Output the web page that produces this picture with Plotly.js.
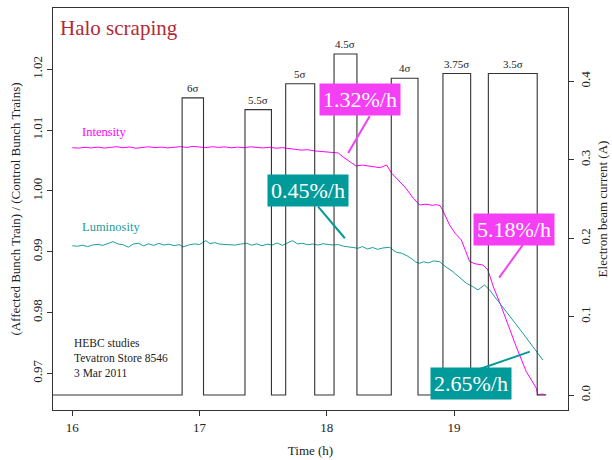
<!DOCTYPE html>
<html>
<head>
<meta charset="utf-8">
<script src="https://cdn.plot.ly/plotly-3.0.1.min.js"></script>
<style>html,body{margin:0;padding:0;background:#fff;}#chart{width:612px;height:460px;}</style>
</head>
<body>
<div id="chart"></div>
<script>
// ---- Data ----
const intensityTime = [16.00,16.05,16.10,16.15,16.20,16.25,16.30,16.35,16.40,16.45,16.50,16.55,16.60,16.65,16.70,16.75,16.80,16.85,16.90,16.95,17.00,17.05,17.10,17.15,17.20,17.25,17.30,17.35,17.40,17.45,17.50,17.55,17.60,17.65,17.70,17.75,17.80,17.85,17.90,17.95,18.00,18.05,18.09,18.13,18.18,18.23,18.28,18.33,18.38,18.42,18.47,18.51,18.56,18.62,18.68,18.73,18.78,18.83,18.86,18.89,18.91,18.965,19.01,19.057,19.09,19.123,19.17,19.227,19.266,19.31,19.372,19.43,19.489,19.568,19.647,19.659,19.69,19.725];
const intensityRatio = [1.00712,1.00705,1.00718,1.00709,1.00722,1.00706,1.00716,1.00728,1.00711,1.00724,1.00703,1.00719,1.00727,1.00713,1.00722,1.00708,1.00718,1.00730,1.00716,1.00734,1.00722,1.00714,1.00728,1.00717,1.00725,1.00710,1.00721,1.00712,1.00726,1.00715,1.00708,1.00719,1.00704,1.00712,1.00693,1.00686,1.00672,1.00679,1.00660,1.00652,1.00648,1.00643,1.00625,1.00556,1.00482,1.00411,1.00425,1.00404,1.00395,1.00383,1.00428,1.00291,1.00185,1.00050,0.99880,0.99770,0.99782,0.99764,0.99775,0.99760,0.99688,0.99441,0.99300,0.99194,0.99020,0.98837,0.98800,0.98783,0.98701,0.98420,0.98097,0.97760,0.97439,0.97028,0.96755,0.96645,0.96660,0.96645];

const luminosityTime = [16.00,16.04,16.08,16.12,16.16,16.20,16.24,16.28,16.32,16.36,16.40,16.44,16.48,16.52,16.56,16.60,16.64,16.68,16.72,16.76,16.80,16.84,16.87,16.92,16.96,17.00,17.05,17.08,17.12,17.16,17.20,17.24,17.28,17.32,17.37,17.41,17.45,17.49,17.53,17.57,17.61,17.65,17.69,17.73,17.77,17.81,17.85,17.89,17.93,17.97,18.01,18.05,18.09,18.13,18.17,18.21,18.245,18.28,18.32,18.36,18.40,18.44,18.47,18.494,18.52,18.55,18.59,18.63,18.67,18.70,18.73,18.76,18.80,18.84,18.887,18.93,18.991,19.04,19.097,19.148,19.188,19.24,19.28,19.32,19.358,19.40,19.436,19.49,19.541,19.58,19.620,19.672,19.698];
const luminosityRatio = [0.99100,0.99090,0.99108,0.99085,0.99112,0.99122,0.99105,0.99140,0.99166,0.99128,0.99115,0.99075,0.99128,0.99140,0.99098,0.99130,0.99105,0.99138,0.99110,0.99125,0.99100,0.99118,0.99080,0.99115,0.99128,0.99120,0.99183,0.99135,0.99150,0.99125,0.99118,0.99122,0.99110,0.99125,0.99140,0.99108,0.99130,0.99098,0.99125,0.99110,0.99145,0.99105,0.99138,0.99183,0.99130,0.99140,0.99115,0.99128,0.99110,0.99132,0.99120,0.99112,0.99118,0.99092,0.99080,0.99065,0.99058,0.99085,0.99045,0.99070,0.99040,0.99062,0.99068,0.99074,0.99030,0.98990,0.98975,0.98935,0.98880,0.98830,0.98811,0.98835,0.98818,0.98850,0.98837,0.98760,0.98673,0.98590,0.98482,0.98426,0.98372,0.98454,0.98372,0.98260,0.98153,0.98050,0.97933,0.97800,0.97660,0.97550,0.97439,0.97275,0.97220];

// Electron lens pulses: on time, off time, current (A), scraping position
const pulseStart   = [16.863, 17.357, 17.677, 18.057, 18.507, 18.913, 19.270];
const pulseEnd     = [17.031, 17.565, 17.905, 18.237, 18.717, 19.131, 19.654];
const pulseCurrent = [0.379, 0.364, 0.397, 0.435, 0.404, 0.410, 0.410];
const pulseLabels  = ['6σ', '5.5σ', '5σ', '4.5σ', '4σ', '3.75σ', '3.5σ'];
const currentStartTime = 15.848;
const currentEndTime = 19.72;

// Rate annotations: text, box centre (time, ratio), connector from / to (time, ratio)
const rateLabels = ['1.32%/h', '0.45%/h', '5.18%/h', '2.65%/h'];
const rateBoxTime  = [18.263, 17.851, 19.472, 19.131];
const rateBoxRatio = [1.01508, 1.00002, 0.99364, 0.96826];
const rateLineFromTime  = [18.338, 17.932, 19.540, 19.203];
const rateLineFromRatio = [1.01234, 0.99742, 0.99112, 0.97072];
const rateLineToTime    = [18.168, 18.142, 19.355, 19.596];
const rateLineToRatio   = [1.00625, 0.99222, 0.98574, 0.97357];
const rateColors = ['#f53ff5', '#009a9a', '#f53ff5', '#009a9a'];

// ---- Build traces ----
const magenta = '#ff00ff';
const teal = '#1d9c9c';
const dark = '#333333';
const serif = 'Liberation Serif, Times New Roman, serif';

const curX = [currentStartTime], curY = [0];
for (let i = 0; i < pulseStart.length; i++) {
  curX.push(pulseStart[i], pulseStart[i], pulseEnd[i], pulseEnd[i]);
  curY.push(0, pulseCurrent[i], pulseCurrent[i], 0);
}
curX.push(currentEndTime); curY.push(0);

const traces = [
  {x: curX, y: curY, yaxis: 'y2', type: 'scatter', mode: 'lines',
   line: {color: dark, width: 1.1}, name: 'Electron beam current', hoverinfo: 'skip'},
  {x: intensityTime, y: intensityRatio, type: 'scatter', mode: 'lines',
   line: {color: magenta, width: 1}, name: 'Intensity'},
  {x: luminosityTime, y: luminosityRatio, type: 'scatter', mode: 'lines',
   line: {color: teal, width: 1}, name: 'Luminosity'}
];

const annotations = [];
for (let i = 0; i < pulseLabels.length; i++) {
  annotations.push({x: (pulseStart[i] + pulseEnd[i]) / 2, y: pulseCurrent[i], xref: 'x', yref: 'y2',
    text: pulseLabels[i], showarrow: false, yanchor: 'bottom', yshift: 2,
    font: {family: serif, size: 11, color: '#222'}});
}
annotations.push({x: 16.059, y: 1.00974, xref: 'x', yref: 'y', text: 'Intensity', showarrow: false,
  xanchor: 'left', font: {family: serif, size: 12.5, color: magenta}});
annotations.push({x: 16.059, y: 0.99404, xref: 'x', yref: 'y', text: 'Luminosity', showarrow: false,
  xanchor: 'left', font: {family: serif, size: 12.5, color: teal}});
annotations.push({x: 15.996, y: 0.97248, xref: 'x', yref: 'y',
  text: 'HEBC studies<br>Tevatron Store 8546<br>3 Mar 2011', showarrow: false,
  xanchor: 'left', align: 'left', font: {family: serif, size: 11.5, color: '#222'}});
for (let i = 0; i < rateLabels.length; i++) {
  annotations.push({x: rateBoxTime[i], y: rateBoxRatio[i], xref: 'x', yref: 'y', text: rateLabels[i],
    showarrow: false, bgcolor: rateColors[i], borderpad: 3,
    font: {family: serif, size: 22, color: '#ffffff'}});
}

const shapes = [];
for (let i = 0; i < rateLabels.length; i++) {
  shapes.push({type: 'line', xref: 'x', yref: 'y',
    x0: rateLineFromTime[i], y0: rateLineFromRatio[i], x1: rateLineToTime[i], y1: rateLineToRatio[i],
    line: {color: rateColors[i], width: 2}, layer: 'above'});
}

const layout = {
  width: 612, height: 460,
  margin: {l: 53, r: 44, t: 8, b: 50},
  paper_bgcolor: '#fff', plot_bgcolor: '#fff',
  showlegend: false,
  font: {family: serif, color: '#222'},
  title: {text: 'Halo scraping', xref: 'container', yref: 'container', x: 60 / 612, y: 1 - 28 / 460,
    xanchor: 'left', yanchor: 'middle', font: {family: serif, size: 21, color: '#b22a35'}},
  xaxis: {range: [15.848, 19.896], tickvals: [16, 17, 18, 19], ticktext: ['16', '17', '18', '19'],
    ticks: 'outside', ticklen: 5, tickcolor: dark, showgrid: false, zeroline: false,
    showline: true, linecolor: dark, linewidth: 1, mirror: true,
    tickfont: {family: serif, size: 13, color: '#222'},
    title: {text: 'Time (h)', font: {family: serif, size: 13, color: '#222'}, standoff: 12}},
  yaxis: {range: [0.96397, 1.03010], tickvals: [0.97, 0.98, 0.99, 1.00, 1.01, 1.02],
    ticktext: ['0.97', '0.98', '0.99', '1.00', '1.01', '1.02'], tickangle: -90,
    ticks: 'outside', ticklen: 5, tickcolor: dark, showgrid: false, zeroline: false,
    showline: true, linecolor: dark, linewidth: 1, mirror: true,
    tickfont: {family: serif, size: 13, color: '#222'},
    title: {text: '(Affected Bunch Train) / (Control Bunch Trains)', font: {family: serif, size: 13, color: '#222'}, standoff: 6}},
  yaxis2: {overlaying: 'y', side: 'right', range: [-0.0191, 0.4936],
    tickvals: [0, 0.1, 0.2, 0.3, 0.4], ticktext: ['0.0', '0.1', '0.2', '0.3', '0.4'], tickangle: -90,
    ticks: 'outside', ticklen: 5, tickcolor: dark, showgrid: false, zeroline: false,
    showline: true, linecolor: dark, linewidth: 1,
    tickfont: {family: serif, size: 13, color: '#222'},
    title: {text: 'Electron beam current (A)', font: {family: serif, size: 13, color: '#222'}, standoff: 6}},
  annotations: annotations,
  shapes: shapes
};

Plotly.newPlot('chart', traces, layout, {displayModeBar: false, staticPlot: true});
</script>
</body>
</html>
